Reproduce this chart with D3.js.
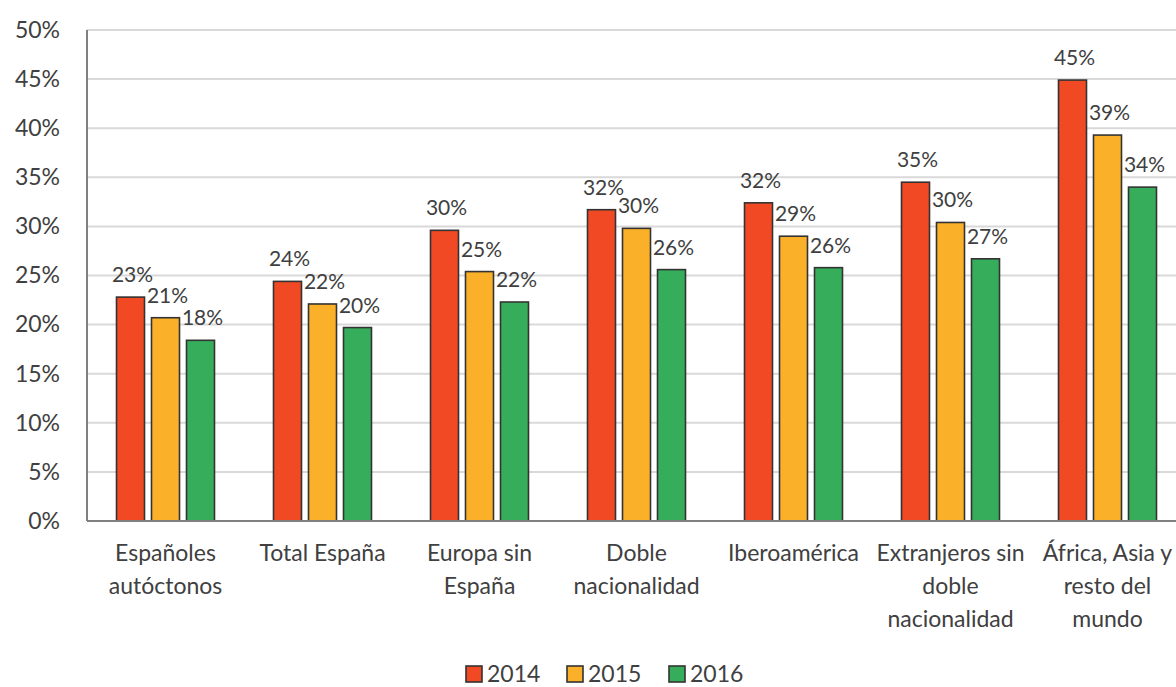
<!DOCTYPE html>
<html>
<head>
<meta charset="utf-8">
<script src="https://cdn.jsdelivr.net/npm/d3@7"></script>
<style>
  body { margin: 0; background: #fff; }
  svg { display: block; }
  text { font-family: Lato, "Open Sans", sans-serif; fill: #404040; }
</style>
</head>
<body>
<svg class="chart" width="1176" height="687"></svg>
<script>
var categories = [
  ["Españoles", "autóctonos"],
  ["Total España"],
  ["Europa sin", "España"],
  ["Doble", "nacionalidad"],
  ["Iberoamérica"],
  ["Extranjeros sin", "doble", "nacionalidad"],
  ["África, Asia y", "resto del", "mundo"]
];
var years = ["2014", "2015", "2016"];
var values2014 = [22.8, 24.4, 29.6, 31.7, 32.4, 34.5, 44.9];
var values2015 = [20.7, 22.1, 25.4, 29.8, 29.0, 30.4, 39.3];
var values2016 = [18.4, 19.7, 22.3, 25.6, 25.8, 26.7, 34.0];
var yTicks = [0, 5, 10, 15, 20, 25, 30, 35, 40, 45, 50];
var colors = ["#f04923", "#fbb02a", "#35ad5a"];

var series = [values2014, values2015, values2016];

var margin = {left: 87, top: 30},
    plotW = 1099,
    plotH = 491;

var chart = d3.select('.chart');
var g = chart.append('g').attr('transform', 'translate(' + margin.left + ',' + margin.top + ')');

var x = d3.scaleBand().domain(d3.range(categories.length)).range([0, plotW]);
var y = d3.scaleLinear().domain([0, 50]).range([plotH, 0]);

var barW = 28, gap = 7;

// gridlines
g.selectAll('.grid')
  .data(yTicks.filter(function(t){ return t > 0; }))
  .enter().append('line')
  .attr('x1', 0).attr('x2', plotW)
  .attr('y1', function(d){ return y(d); })
  .attr('y2', function(d){ return y(d); })
  .attr('stroke', '#d9d9d9')
  .attr('stroke-width', 2);

// y axis labels
var yAxis = d3.axisLeft(y).tickValues(yTicks).tickSize(0).tickPadding(27)
  .tickFormat(function(d){ return d + '%'; });
var ya = g.append('g').call(yAxis);
ya.select('.domain').remove();
ya.selectAll('text').attr('font-size', 23).attr('fill', '#404040')
  .style('font-family', 'Lato, "Open Sans", sans-serif');

// bars
series.forEach(function(vals, s) {
  var off = (x.bandwidth() - (3 * barW + 2 * gap)) / 2 + s * (barW + gap);
  g.selectAll('.bar' + s)
    .data(vals)
    .enter().append('rect')
    .attr('x', function(d, i){ return x(i) + off; })
    .attr('y', function(d){ return y(d); })
    .attr('width', barW)
    .attr('height', function(d){ return plotH - y(d); })
    .attr('fill', colors[s])
    .attr('stroke', '#333')
    .attr('stroke-width', 1.6);

  g.selectAll('.lab' + s)
    .data(vals)
    .enter().append('text')
    .attr('x', function(d, i){ return x(i) + off + barW / 2 + 2; })
    .attr('y', function(d){ return y(d) - 15; })
    .attr('text-anchor', 'middle')
    .attr('font-size', 21)
    .text(function(d){ return Math.round(d) + '%'; });
});

// axes lines
g.append('line').attr('x1', 0).attr('x2', 0).attr('y1', 0).attr('y2', plotH)
  .attr('stroke', '#808080').attr('stroke-width', 2);
g.append('line').attr('x1', 0).attr('x2', plotW).attr('y1', plotH).attr('y2', plotH)
  .attr('stroke', '#808080').attr('stroke-width', 2);

// category labels
g.selectAll('.cat')
  .data(categories)
  .enter().append('text')
  .attr('text-anchor', 'middle')
  .attr('font-size', 23)
  .attr('transform', function(d, i){ return 'translate(' + (x(i) + x.bandwidth() / 2) + ',' + (plotH + 40) + ')'; })
  .each(function(lines) {
    var t = d3.select(this);
    lines.forEach(function(l, k) {
      t.append('tspan').attr('x', 0).attr('y', k * 33).text(l);
    });
  });

// legend
var legX = [466, 567, 669];
var leg = chart.append('g');
years.forEach(function(yr, s) {
  leg.append('rect').attr('x', legX[s]).attr('y', 666).attr('width', 16).attr('height', 16)
    .attr('fill', colors[s]).attr('stroke', '#333').attr('stroke-width', 1.6);
  leg.append('text').attr('x', legX[s] + 21).attr('y', 682).attr('font-size', 23).text(yr);
});
</script>
</body>
</html>
